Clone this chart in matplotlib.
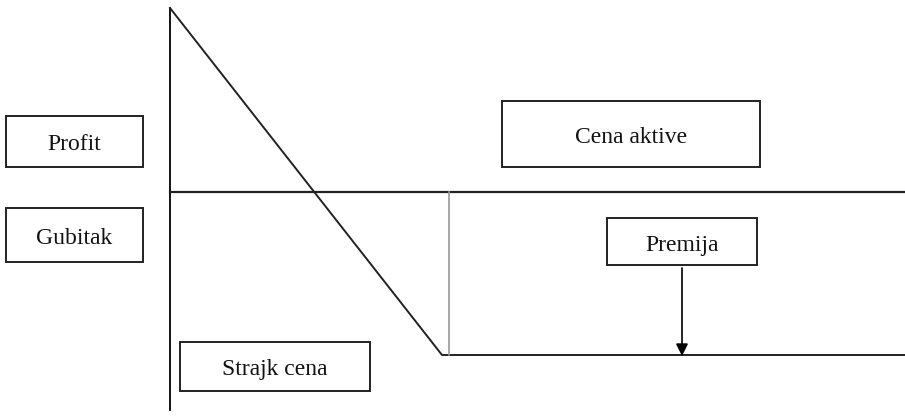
import matplotlib.pyplot as plt
from matplotlib.patches import Rectangle

# payoff diagram (long put): price axis vs profit/loss
price = [170, 442, 905]
payoff = [8, 355, 355]
strike = 449
zero_level = 192

labels = ["Profit", "Gubitak", "Cena aktive", "Premija", "Strajk cena"]
boxes = [(6, 116, 137, 51), (6, 208, 137, 54), (502, 101, 258, 66),
         (607, 218, 150, 47), (180, 342, 190, 49)]

plt.rcParams['font.family'] = ['Liberation Serif', 'DejaVu Serif']

fig = plt.figure(figsize=(9.05, 4.18), dpi=100)
ax = fig.add_axes([0, 0, 1, 1])
ax.set_xlim(0, 905)
ax.set_ylim(418, 0)
ax.axis("off")

# axes of the diagram
ax.plot([170, 170], [8, 410], color='black', lw=1.3)
ax.plot([170, 905], [zero_level, zero_level], color='#222222', lw=1.6)

# payoff line
ax.plot(price, payoff, color='#222222', lw=1.4)

# strike marker
ax.plot([strike, strike], [zero_level, payoff[-1]], color='#999999', lw=1.2)

# premium arrow
ax.annotate("", xy=(682, payoff[-1] + 1), xytext=(682, 268),
            arrowprops=dict(arrowstyle='-|>', color='black', lw=1.2,
                            mutation_scale=18, shrinkA=0, shrinkB=0))

for (x, y, w, h), txt in zip(boxes, labels):
    ax.add_patch(Rectangle((x, y), w, h, fill=False, edgecolor='#222222', lw=1.4))
    ax.text(x + w / 2, y + h / 2 + 9, txt, ha='center', va='baseline',
            fontsize=17, color='#111111')

fig.savefig("out.png", dpi=100)
